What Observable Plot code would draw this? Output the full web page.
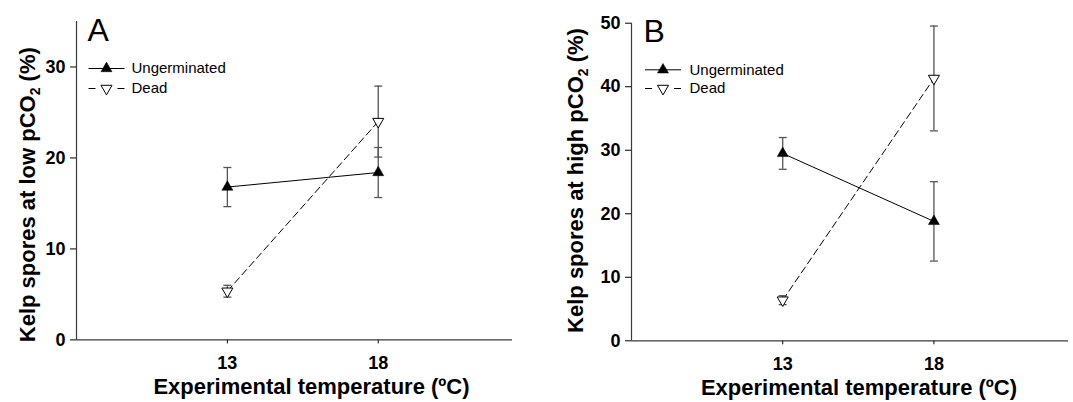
<!DOCTYPE html>
<html><head><meta charset="utf-8">
<script src="https://cdn.jsdelivr.net/npm/d3@7"></script>
<script src="https://cdn.jsdelivr.net/npm/@observablehq/plot@0.6"></script>
<style>
html,body{margin:0;padding:0;background:#fff;}
#wrap{display:flex;width:1073px;height:402px;overflow:hidden;background:#fff;}
</style></head><body><div id="wrap"></div>
<script>
// ---- data ----
const temps = [13, 18];
const seriesNames = ["Ungerminated", "Dead"];
const lowUngerminated = [16.8, 18.4];
const lowUngerminatedSE = [2.15, 2.75];
const lowDead = [5.35, 24.0];
const lowDeadSE = [0.65, 3.9];
const highUngerminated = [29.5, 18.8];
const highUngerminatedSE = [2.5, 6.25];
const highDead = [6.4, 41.3];
const highDeadSE = [0.7, 8.25];
const yTicksLow = [0, 10, 20, 30];
const yTicksHigh = [0, 10, 20, 30, 40, 50];
const xTicks = [13, 18];
const xDomain = [8, 22.45];
const xTitle = "Experimental temperature (ºC)";
const yTitleLow = "Kelp spores at low pCO2 (%)";
const yTitleHigh = "Kelp spores at high pCO2 (%)";
const panelLetters = ["A", "B"];

// ---- helpers ----
const capSymbol = {draw(ctx, size) { const r = Math.sqrt(size / Math.PI); ctx.moveTo(-r, 0); ctx.lineTo(r, 0); }};
const solidKey = {draw(ctx, size) { const r = Math.sqrt(size / Math.PI); ctx.moveTo(-r, 0); ctx.lineTo(r, 0); }};
const dashedKey = {draw(ctx, size) { const r = Math.sqrt(size / Math.PI); ctx.moveTo(-r, 0); ctx.lineTo(-r + 7, 0); ctx.moveTo(r - 7, 0); ctx.lineTo(r, 0); }};

function rows(vals, ses, series) {
  return temps.map((t, i) => ({temp: t, series, value: vals[i], lo: vals[i] - ses[i], hi: vals[i] + ses[i]}));
}

function makePanel(cfg) {
  const ung = rows(cfg.ung, cfg.ungSE, seriesNames[0]);
  const dead = rows(cfg.dead, cfg.deadSE, seriesNames[1]);
  const all = ung.concat(dead);
  const axisColor = "#3a3a3a";
  const errColor = "#555";
  const svg = Plot.plot({
    width: cfg.width, height: 402,
    marginLeft: cfg.ml, marginRight: cfg.mr, marginTop: cfg.mt, marginBottom: cfg.mb,
    style: {fontFamily: "'Liberation Sans', Arial, sans-serif", fontSize: "18px", fontWeight: "bold", background: "#fff", color: "#000", overflow: "visible"},
    x: {domain: xDomain, ticks: xTicks, tickSize: 4, tickPadding: 12, label: null, tickFormat: d => String(d)},
    y: {domain: cfg.yDomain, ticks: cfg.yTicks, tickSize: 6, tickPadding: 5, label: null},
    marks: [
      Plot.ruleY([cfg.yDomain[0]], {stroke: axisColor, strokeWidth: 1.2}),
      Plot.ruleX([xDomain[0]], {stroke: axisColor, strokeWidth: 1.2}),
      Plot.line(ung, {x: "temp", y: "value", stroke: "#000", strokeWidth: 1}),
      Plot.line(dead, {x: "temp", y: "value", stroke: "#000", strokeWidth: 1, strokeDasharray: "7,4"}),
      Plot.ruleX(all, {x: "temp", y1: "lo", y2: "hi", stroke: errColor, strokeWidth: 1.3}),
      Plot.dot(all, {x: "temp", y: "hi", symbol: capSymbol, r: 4, fill: "none", stroke: errColor, strokeWidth: 1.3}),
      Plot.dot(all, {x: "temp", y: "lo", symbol: capSymbol, r: 4, fill: "none", stroke: errColor, strokeWidth: 1.3}),
      Plot.dot(ung, {x: "temp", y: "value", symbol: "triangle", r: 4.1, fill: "#000", stroke: "#000", strokeWidth: 0.5}),
      Plot.dot(dead, {x: "temp", y: "value", symbol: "triangle", rotate: 180, r: 4.1, fill: "#fff", stroke: "#000", strokeWidth: 1}),
      // legend
      Plot.dot([0], {x: null, y: null, frameAnchor: "top-left", dx: cfg.legX, dy: cfg.legY1, symbol: solidKey, r: 18, fill: "none", stroke: "#000", strokeWidth: 1}),
      Plot.dot([0], {x: null, y: null, frameAnchor: "top-left", dx: cfg.legX, dy: cfg.legY1, symbol: "triangle", r: 4.1, fill: "#000", stroke: "#000", strokeWidth: 0.5}),
      Plot.dot([0], {x: null, y: null, frameAnchor: "top-left", dx: cfg.legX, dy: cfg.legY2, symbol: dashedKey, r: 18, fill: "none", stroke: "#000", strokeWidth: 1}),
      Plot.dot([0], {x: null, y: null, frameAnchor: "top-left", dx: cfg.legX, dy: cfg.legY2, symbol: "triangle", rotate: 180, r: 4.1, fill: "#fff", stroke: "#000", strokeWidth: 1}),
      Plot.text([seriesNames[0]], {frameAnchor: "top-left", dx: cfg.legTX, dy: cfg.legY1, textAnchor: "start", lineAnchor: "middle", fontSize: 15, fontWeight: "normal"}),
      Plot.text([seriesNames[1]], {frameAnchor: "top-left", dx: cfg.legTX, dy: cfg.legY2, textAnchor: "start", lineAnchor: "middle", fontSize: 15, fontWeight: "normal"}),
      // panel letter
      Plot.text([cfg.letter], {frameAnchor: "top-left", dx: cfg.letX, dy: cfg.letY, textAnchor: "start", lineAnchor: "top", fontSize: 32, fontWeight: "normal"}),
      // axis titles
      Plot.text([cfg.yTitle], {frameAnchor: "left", rotate: -90, dx: cfg.ytDx, dy: cfg.ytDy, textAnchor: "middle", lineAnchor: "middle", fontSize: 22, fontWeight: "bold"}),
      Plot.text([xTitle], {frameAnchor: "bottom", dx: cfg.xtDx, dy: cfg.xtDy, textAnchor: "middle", lineAnchor: "middle", fontSize: 22, fontWeight: "bold"})
    ]
  });
  const root = d3.select(svg);
  // tick labels: bold 18px
  root.selectAll("text").filter(function() { return /^\d+$/.test(this.textContent.trim()); })
    .style("font-size", "18px").style("font-weight", "bold");
  // subscript the 2 in pCO2
  root.selectAll("text").filter(function() { return this.textContent.indexOf("pCO2") >= 0; }).each(function() {
    const s = this.textContent; const i = s.indexOf("pCO2") + 3;
    const t = d3.select(this); t.text(null);
    t.append("tspan").text(s.slice(0, i));
    t.append("tspan").attr("font-size", "14px").attr("dy", "5").text("2");
    t.append("tspan").attr("dy", "-5").text(s.slice(i + 1));
  });
  return svg;
}

const wrap = document.getElementById("wrap");
wrap.appendChild(makePanel({
  width: 536, ml: 76, mr: 24, mt: 21, mb: 62.6,
  yDomain: [0, 35], yTicks: yTicksLow,
  ung: lowUngerminated, ungSE: lowUngerminatedSE, dead: lowDead, deadSE: lowDeadSE,
  letter: panelLetters[0], letX: 11, letY: -3,
  legX: 30, legTX: 55, legY1: 47, legY2: 67,
  yTitle: yTitleLow, ytDx: -49, ytDy: 14,
  xTitle, xtDx: 17, xtDy: 47
}));
wrap.appendChild(makePanel({
  width: 537, ml: 95, mr: 5, mt: 22.7, mb: 61.7,
  yDomain: [0, 50], yTicks: yTicksHigh,
  ung: highUngerminated, ungSE: highUngerminatedSE, dead: highDead, deadSE: highDeadSE,
  letter: panelLetters[1], letX: 12, letY: -4,
  legX: 31.5, legTX: 58, legY1: 46.6, legY2: 65.3,
  yTitle: yTitleHigh, ytDx: -56, ytDy: -1.5,
  xTitle, xtDx: 9, xtDy: 47
}));
</script>
</body></html>
